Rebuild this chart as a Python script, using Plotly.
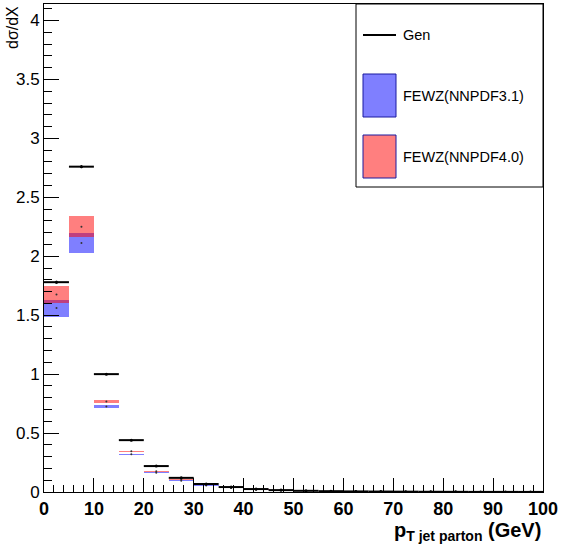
import plotly.graph_objects as go

# ---- data ----
bin_lo = [0, 5, 10, 15, 20, 25, 30, 35, 40, 45, 50, 55, 60, 65, 70, 75, 80, 85, 90, 95]
bin_width = 5
gen_val = [1.78, 2.76, 1.00, 0.44, 0.22, 0.12, 0.068, 0.042, 0.025, 0.016, 0.010, 0.007,
           0.005, 0.004, 0.003, 0.002, 0.0015, 0.001, 0.001, 0.0008]
gen_err = [0.012, 0.012, 0.006, 0.004, 0.003, 0.002, 0.002, 0.001, 0.001, 0.001, 0.001, 0.0005,
           0.0005, 0.0005, 0.0005, 0.0005, 0.0005, 0.0005, 0.0005, 0.0005]
nn31_val = [1.56, 2.113, 0.725, 0.32, 0.164, 0.095, 0.056, 0.034, 0.020, 0.012, 0.008, 0.006,
            0.004, 0.003, 0.002, 0.0015, 0.001, 0.001, 0.0008, 0.0006]
nn31_err = [0.073, 0.083, 0.012, 0.005, 0.004, 0.003, 0.003, 0.002, 0.002, 0.0015, 0.001, 0.001,
            0.001, 0.001, 0.001, 0.001, 0.001, 0.001, 0.001, 0.001]
nn40_val = [1.675, 2.25, 0.768, 0.345, 0.175, 0.105, 0.060, 0.036, 0.022, 0.013, 0.009, 0.006,
            0.0045, 0.003, 0.0022, 0.0016, 0.0012, 0.001, 0.0008, 0.0006]
nn40_err = [0.075, 0.09, 0.012, 0.005, 0.004, 0.003, 0.003, 0.002, 0.002, 0.0015, 0.001, 0.001,
            0.001, 0.001, 0.001, 0.001, 0.001, 0.001, 0.001, 0.001]

x_range = [0, 100]
y_range = [0, 4.14]
x_tickvals = [0, 10, 20, 30, 40, 50, 60, 70, 80, 90, 100]
y_tickvals = [0, 0.5, 1, 1.5, 2, 2.5, 3, 3.5, 4]
y_ticktext = ["0", "0.5", "1", "1.5", "2", "2.5", "3", "3.5", "4"]

centers = [b + bin_width / 2 for b in bin_lo]
half = [bin_width / 2] * len(bin_lo)

BLUE = "rgba(0,0,255,0.5)"
RED = "rgba(255,0,0,0.5)"
FONT = "Liberation Sans, Arial, Helvetica, sans-serif"

fig = go.Figure()

for val, err, col in [(nn31_val, nn31_err, BLUE), (nn40_val, nn40_err, RED)]:
    fig.add_trace(go.Bar(
        x=centers, y=[2 * e for e in err], base=[v - e for v, e in zip(val, err)],
        width=bin_width, marker=dict(color=col, line=dict(width=0)),
        showlegend=False, hoverinfo="skip"))
    fig.add_trace(go.Scatter(
        x=centers, y=val, mode="markers",
        marker=dict(size=2, color="#333333"), showlegend=False))

fig.add_trace(go.Scatter(
    x=centers, y=gen_val, mode="markers",
    marker=dict(size=3, color="black"),
    error_x=dict(type="data", array=half, width=0, thickness=2, color="black"),
    error_y=dict(type="data", array=gen_err, width=0, thickness=1.5, color="black"),
    showlegend=False))

W, H = 568, 548
L, R, T, B = 44, 25, 4, 56
pw, ph = W - L - R, H - T - B


def px(x):
    return (x - L) / pw


def py(y):
    return (H - B - y) / ph


shapes = [
    dict(type="rect", xref="paper", yref="paper", x0=px(356), x1=px(543), y0=py(187), y1=py(4),
         line=dict(color="black", width=1), fillcolor="white", layer="above"),
    dict(type="line", xref="paper", yref="paper", x0=px(363), x1=px(396), y0=py(35), y1=py(35),
         line=dict(color="black", width=2), layer="above"),
    dict(type="rect", xref="paper", yref="paper", x0=px(363), x1=px(396), y0=py(117), y1=py(74),
         line=dict(color="#1a1aa0", width=1), fillcolor="#7f7fff", layer="above"),
    dict(type="rect", xref="paper", yref="paper", x0=px(363), x1=px(396), y0=py(178), y1=py(135),
         line=dict(color="#1a1aa0", width=1), fillcolor="#ff7f7f", layer="above"),
]

annotations = [
    dict(text="Gen", xref="paper", yref="paper", x=px(401), y=py(35), xanchor="left",
         yanchor="middle", showarrow=False, font=dict(family=FONT, size=14.5, color="black")),
    dict(text="FEWZ(NNPDF3.1)", xref="paper", yref="paper", x=px(401), y=py(96), xanchor="left",
         yanchor="middle", showarrow=False, font=dict(family=FONT, size=14.5, color="black")),
    dict(text="FEWZ(NNPDF4.0)", xref="paper", yref="paper", x=px(401), y=py(157), xanchor="left",
         yanchor="middle", showarrow=False, font=dict(family=FONT, size=14.5, color="black")),
    dict(text="<b>p<sub>T jet parton</sub> (GeV)</b>", xref="paper", yref="paper",
         x=px(543), y=py(546), xanchor="right", yanchor="bottom", showarrow=False,
         font=dict(family=FONT, size=20, color="black")),
    dict(text="dσ/dX", xref="paper", yref="paper", x=px(2), y=py(4), xanchor="left",
         yanchor="top", textangle=-90, showarrow=False,
         font=dict(family=FONT, size=16, color="black")),
]

fig.update_layout(
    width=W, height=H,
    margin=dict(l=L, r=R, t=T, b=B, pad=0),
    paper_bgcolor="white", plot_bgcolor="white",
    barmode="overlay", bargap=0,
    showlegend=False,
    shapes=shapes, annotations=annotations,
    xaxis=dict(range=x_range, tickvals=x_tickvals, ticks="inside", ticklen=14, tickwidth=1,
               tickcolor="black", showline=True, mirror=True, linecolor="black", linewidth=1,
               showgrid=False, zeroline=False,
               tickfont=dict(family=FONT, size=18, color="black", weight="bold"),
               minor=dict(ticks="inside", dtick=2, ticklen=7, tickcolor="black", showgrid=False)),
    yaxis=dict(range=y_range, tickvals=y_tickvals, ticktext=y_ticktext, ticks="inside",
               ticklen=15, tickwidth=1, tickcolor="black", showline=True, mirror=True,
               linecolor="black", linewidth=1, showgrid=False, zeroline=False,
               tickfont=dict(family=FONT, size=17, color="black"),
               minor=dict(ticks="inside", dtick=0.1, ticklen=8, tickcolor="black", showgrid=False)),
)

fig.write_html("out.html")
